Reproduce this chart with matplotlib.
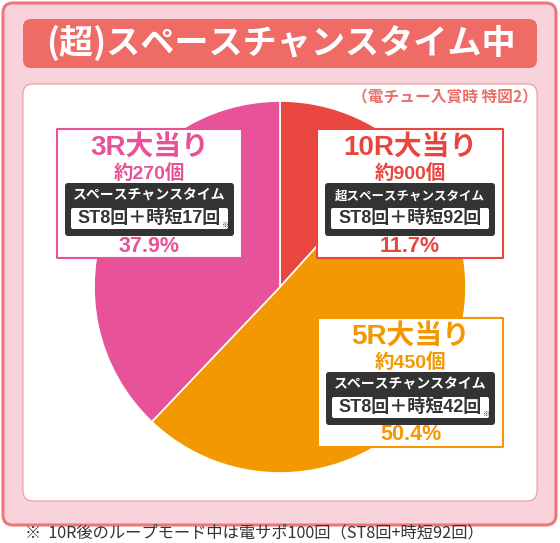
import matplotlib
matplotlib.use('Agg')
import matplotlib.pyplot as plt
from matplotlib.patches import FancyBboxPatch

plt.rcParams['font.family'] = ['Noto Sans CJK JP', 'DejaVu Sans']
MIX = ['Liberation Sans', 'Noto Sans CJK JP']

W, H = 560, 543

# data
labels = ['10R大当り', '5R大当り', '3R大当り']
shares = [11.7, 50.4, 37.9]
payouts = ['約900個', '約450個', '約270個']
modes = ['超スペースチャンスタイム', 'スペースチャンスタイム', 'スペースチャンスタイム']
spins = ['ST8回＋時短92回', 'ST8回＋時短42回', 'ST8回＋時短17回']
has_note = [False, True, True]
colors = ['#E8463F', '#F39800', '#E85298']

title = '(超)スペースチャンスタイム中'
subtitle = '（電チュー入賞時 特図2）'
footnote = '※  10R後のループモード中は電サポ100回（ST8回+時短92回）'

# label boxes in pixels: left, top, right
box_pos = [(317, 129, 503), (318, 318, 503), (57, 129, 242)]


def yy(p):
    return H - p


def rbox(ax, x0, y0, x1, y1, r, fc, ec='none', lw=0, z=1):
    p = FancyBboxPatch((x0 + r, yy(y1) + r), x1 - x0 - 2 * r, y1 - y0 - 2 * r,
                       boxstyle='round,pad=%g' % r, fc=fc, ec=ec, lw=lw, zorder=z)
    ax.add_patch(p)


fig = plt.figure(figsize=(W / 100, H / 100), dpi=100)
ax = fig.add_axes([0, 0, 1, 1])

# frame
rbox(ax, 3, 3, 556, 525, 10, '#F9D3DC', '#EE7676', 2.2, 0)
rbox(ax, 23, 19, 537, 68, 8, '#EE6B66', z=0.5)
rbox(ax, 23, 84, 537, 501, 10, 'white', '#F19A90', 0.8, 0.5)

ax.text(281, yy(43), title, color='white', fontsize=24.6, fontweight='bold',
        ha='center', va='center')
ax.text(538, yy(97), subtitle, color='#E8706A', fontsize=11.3, fontweight='bold',
        ha='right', va='center')
ax.text(25, yy(533), footnote, color='#333333', fontsize=11.7,
        ha='left', va='center')

ax.pie(shares, colors=colors, startangle=90, counterclock=False,
       center=(280, yy(287)), radius=186,
       wedgeprops=dict(edgecolor='white', linewidth=1.2))

for i in range(len(labels)):
    x0, top, x1 = box_pos[i]
    c = colors[i]
    rbox(ax, x0, top, x1, top + 129, 0.5, 'white', c, 1.5, 3)
    dx0, dx1 = x0 + 8, x1 - 8
    cx = (dx0 + dx1) / 2
    ax.text(cx, yy(top + 20), labels[i], color=c, fontsize=20, fontweight='bold',
            family=MIX, ha='center', va='center', zorder=5)
    ax.text(cx, yy(top + 44), payouts[i], color=c, fontsize=14, fontweight='bold',
            family=MIX, ha='center', va='center', zorder=5)
    rbox(ax, dx0, top + 54, dx1, top + 107, 3, '#333333', z=4)
    ax.text(cx, yy(top + 67), modes[i], color='white',
            fontsize=9 if len(modes[i]) > 11 else 10, fontweight='bold',
            ha='center', va='center', zorder=5)
    rbox(ax, dx0 + 6, top + 79, dx1 - 6, top + 100, 2, 'white', z=5)
    ax.text(cx, yy(top + 89.5), spins[i], color='#333333', fontsize=13, fontweight='bold',
            family=MIX, ha='center', va='center', zorder=6)
    if has_note[i]:
        ax.text(dx1 - 9, yy(top + 96), '※', color='#333333', fontsize=5,
                ha='center', va='center', zorder=6)
    ax.text(cx, yy(top + 117), '%.1f%%' % shares[i], color=c, fontsize=15.5,
            fontweight='bold', family=MIX, ha='center', va='center', zorder=5)

ax.set_xlim(0, W)
ax.set_ylim(0, H)
ax.axis('off')

fig.savefig('out.png', dpi=100, facecolor='white')
